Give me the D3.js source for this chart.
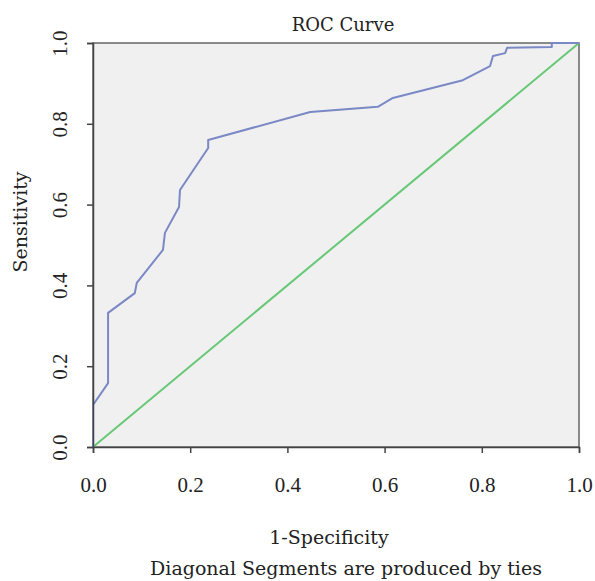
<!DOCTYPE html>
<html>
<head>
<meta charset="utf-8">
<script src="https://d3js.org/d3.v7.min.js"></script>
<style>
  body { margin: 0; background: #fff; }
  text { font-family: "DejaVu Serif", "Liberation Serif", serif; fill: #222; }
</style>
</head>
<body>
<div id="canvas"></div>
<script>
"use strict"

/* data */
let fpr = [0, 0, 0.031, 0.031, 0.086, 0.090, 0.144, 0.148, 0.177, 0.179, 0.237, 0.237,
    0.447, 0.586, 0.617, 0.761, 0.817, 0.823, 0.848, 0.852, 0.944, 0.944, 1.0];
let tpr = [0, 0.104, 0.158, 0.332, 0.381, 0.406, 0.488, 0.530, 0.594, 0.636, 0.740, 0.760,
    0.829, 0.842, 0.864, 0.908, 0.943, 0.968, 0.975, 0.988, 0.990, 1.0, 1.0];
let refLine = [0, 1];
let ticks = [0, 0.2, 0.4, 0.6, 0.8, 1.0];

/* drawing config */
let svgWidth = 595;
let svgHeight = 581;
let plotLeft = 93, plotRight = 579, plotTop = 43, plotBottom = 447;

let svg = d3.select("#canvas")
    .append("svg")
    .attr("width", svgWidth)
    .attr("height", svgHeight);

let xScale = d3.scaleLinear().domain([0, 1]).range([plotLeft, plotRight]);
let yScale = d3.scaleLinear().domain([0, 1]).range([plotBottom, plotTop]);

// plot background + frame
svg.append("rect")
    .attr("x", plotLeft)
    .attr("y", plotTop)
    .attr("width", plotRight - plotLeft)
    .attr("height", plotBottom - plotTop)
    .attr("fill", "#f0f0f0")
    .attr("stroke", "#666")
    .attr("stroke-width", 1.5);

// diagonal reference
svg.append("line")
    .attr("x1", xScale(refLine[0]))
    .attr("y1", yScale(refLine[0]))
    .attr("x2", xScale(refLine[1]))
    .attr("y2", yScale(refLine[1]))
    .attr("stroke", "#66c875")
    .attr("stroke-width", 2);

// roc curve
let roc = fpr.map(function(d, i) { return [d, tpr[i]]; });
svg.append("path")
    .datum(roc)
    .attr("fill", "none")
    .attr("stroke", "#7a88c6")
    .attr("stroke-width", 2)
    .attr("stroke-linejoin", "round")
    .attr("d", d3.line()
        .x(d => xScale(d[0]))
        .y(d => yScale(d[1])));

// axes
let xAxis = svg.append("g")
    .attr("transform", "translate(0," + plotBottom + ")")
    .call(d3.axisBottom(xScale).tickValues(ticks).tickSize(6).tickPadding(24)
        .tickFormat(d3.format(".1f")));

let yAxis = svg.append("g")
    .attr("transform", "translate(" + plotLeft + ",0)")
    .call(d3.axisLeft(yScale).tickValues(ticks).tickSize(6)
        .tickFormat(d3.format(".1f")));

xAxis.selectAll("text")
    .style("font-size", "21px")
    .style("font-family", "Liberation Serif")
    .style("fill", "#222");

yAxis.selectAll("text")
    .attr("x", null)
    .attr("dy", null)
    .attr("transform", "translate(-31,0) rotate(-90)")
    .attr("text-anchor", "middle")
    .attr("dominant-baseline", "middle")
    .style("font-size", "21px")
    .style("font-family", "Liberation Serif")
    .style("fill", "#222");

svg.selectAll(".domain")
    .attr("stroke", "#444")
    .attr("stroke-width", 1.5);
svg.selectAll(".tick line")
    .attr("stroke", "#444")
    .attr("stroke-width", 1.5);

// titles
svg.append("text")
    .attr("x", 343)
    .attr("y", 31)
    .attr("text-anchor", "middle")
    .style("font-size", "18px")
    .text("ROC Curve");

svg.append("text")
    .attr("x", 329)
    .attr("y", 544)
    .attr("text-anchor", "middle")
    .style("font-size", "19px")
    .text("1-Specificity");

svg.append("text")
    .attr("x", 346)
    .attr("y", 575)
    .attr("text-anchor", "middle")
    .style("font-size", "19px")
    .text("Diagonal Segments are produced by ties");

svg.append("text")
    .attr("transform", "translate(27,222) rotate(-90)")
    .attr("text-anchor", "middle")
    .style("font-size", "19px")
    .text("Sensitivity");
</script>
</body>
</html>
